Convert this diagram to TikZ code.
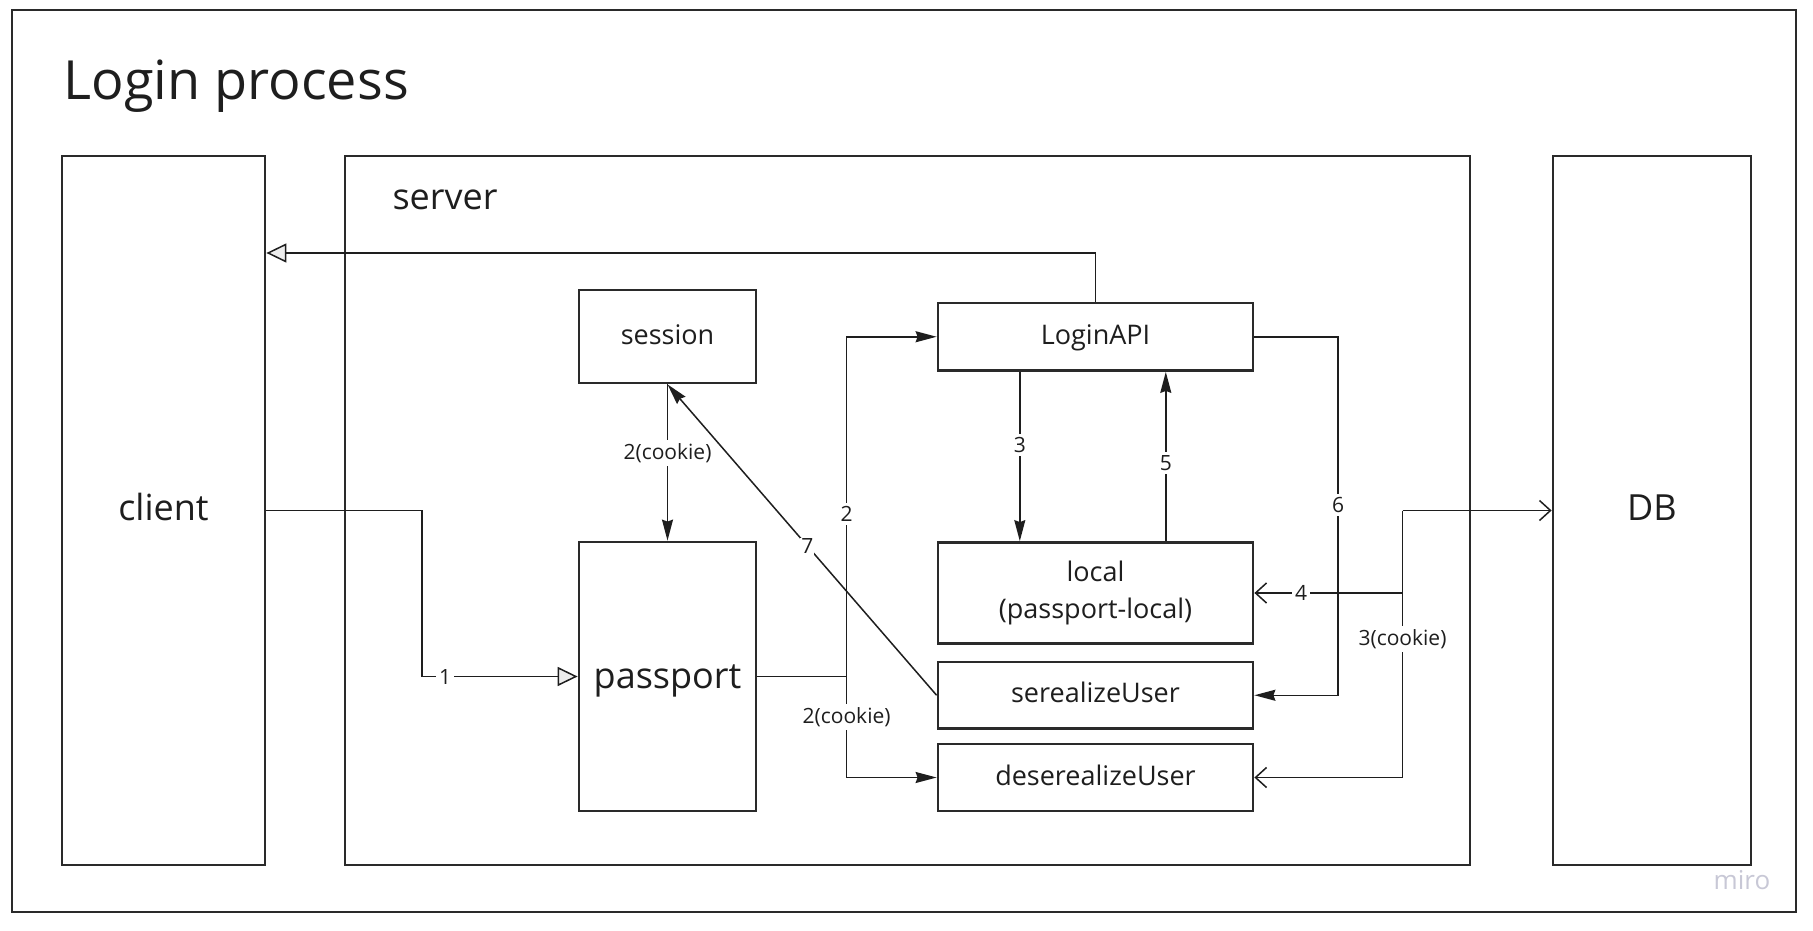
\documentclass[tikz,border=0pt]{standalone}
\usepackage{fontspec}
\setmainfont{Open Sans}
\usetikzlibrary{arrows.meta}
\definecolor{ink}{HTML}{1E1E1E}
\definecolor{edge}{HTML}{2A2A2A}
\definecolor{wm}{HTML}{C8C8D6}
\begin{document}
\begin{tikzpicture}[x=1pt,y=-1pt,
  frame/.style={draw=edge, line width=2.8pt, fill=white, inner sep=0pt},
  box/.style={draw=edge, line width=2.8pt, fill=white, inner sep=0pt, text=ink, align=center},
  big/.style={font=\fontsize{36}{40}\selectfont, text height=27.4pt, text depth=7.2pt},
  mid/.style={font=\fontsize{27}{37}\selectfont, text height=20.5pt, text depth=5.4pt},
  midml/.style={font=\fontsize{27}{37}\selectfont},
  conn/.style={draw=ink, line width=1.5pt},
  fa/.style={conn, -{Stealth[length=21pt,width=11pt,inset=2pt]}},
  va/.style={conn, -{Straight Barb[length=11pt,width=20pt]}},
  oa/.style={conn, -{Triangle[length=20pt,width=19pt,fill=black!7]}},
  lbl/.style={fill=white, inner sep=3pt, text=ink, font=\fontsize{21}{24}\selectfont}
]
\useasboundingbox (0,0) rectangle (1813,931);
\fill[white] (0,0) rectangle (1813,931);

% frames
\node[frame, minimum width=1784pt, minimum height=902pt] (outer) at (904,461) {};
\node[anchor=base west, text=ink, font=\fontsize{54}{60}\selectfont] (title) at (60,100) {Login process};
\node[box, big, minimum width=203pt, minimum height=709pt] (client) at (163.5,510.5) {client};
\node[frame, minimum width=1125pt, minimum height=709pt] (server) at (907.5,510.5) {};
\node[anchor=base west, text=ink, font=\fontsize{36}{40}\selectfont] (serverlbl) at (389,209.6) {server};
\node[box, big, minimum width=198pt, minimum height=709pt] (DB) at (1652,510.5) {DB};

% inner boxes
\node[box, mid, minimum width=177pt, minimum height=93pt] (session) at (667.5,336.5) {session};
\node[box, big, text depth=3.4pt, minimum width=177pt, minimum height=269pt] (passport) at (667.5,676.5) {passport};
\node[box, mid, minimum width=315pt, minimum height=67.5pt] (login) at (1095.5,336.75) {LoginAPI};
\node[box, midml, minimum width=315pt, minimum height=101pt] (local) at (1095.5,593) {local\\(passport-local)};
\node[box, mid, minimum width=315pt, minimum height=66.5pt] (ser) at (1095.5,695.25) {serealizeUser};
\node[box, mid, minimum width=315pt, minimum height=67pt] (deser) at (1095.5,777.5) {deserealizeUser};

% helper coordinates
\coordinate (retTop) at (1095.5,253);
\coordinate (c1) at (422,510.5);
\coordinate (j2) at (846.6,676.5);
\coordinate (c6) at (1338,336.75);
\coordinate (jdb) at (1402.5,510.5);

% server -> client
\draw[oa] (login.north) -- (retTop) -- (client.east |- retTop);
% client -> passport
\draw[oa] (client.east) -- (c1) |- (passport.west);
\node[lbl] (l1) at (445,676.5) {1};
% passport -> LoginAPI / deserealizeUser
\draw[conn] (passport.east) -- (j2);
\draw[fa] (j2) |- (login.west);
\draw[fa] (j2) |- (deser.west);
\node[lbl] (l2) at (846.6,514) {2};
\node[lbl] (l2c) at (846.6,717) {2(cookie)};
% session -> passport
\draw[fa] (session.south) -- (passport.north) node[lbl, pos=0.44] (l2s) {2(cookie)};
% serealizeUser -> session
\draw[fa] (ser.west) -- (session.south) node[lbl, pos=0.48, inner sep=1pt] (l7) {7};
% 3 and 5
\draw[fa] ([xshift=-75.7pt]login.south) -- ([xshift=-75.7pt]local.north) node[lbl, pos=0.433] (l3) {3};
\draw[fa] ([xshift=70.3pt]local.north) -- ([xshift=70.3pt]login.south) node[lbl, pos=0.462] (l5) {5};
% 6
\draw[fa] (login.east) -- (c6) |- (ser.east);
\node[lbl] (l6) at (1338,505) {6};
% DB links
\draw[va] (jdb) -- (DB.west);
\draw[va] (jdb) |- (deser.east);
\draw[va] (jdb |- local.east) -- (local.east);
\node[lbl] (l4) at (1301,593) {4};
\node[lbl] (l3c) at (1402.5,639) {3(cookie)};

% watermark
\node[text=wm, font=\fontsize{26}{30}\selectfont] (miro) at (1742,880) {miro};
\end{tikzpicture}
\end{document}
